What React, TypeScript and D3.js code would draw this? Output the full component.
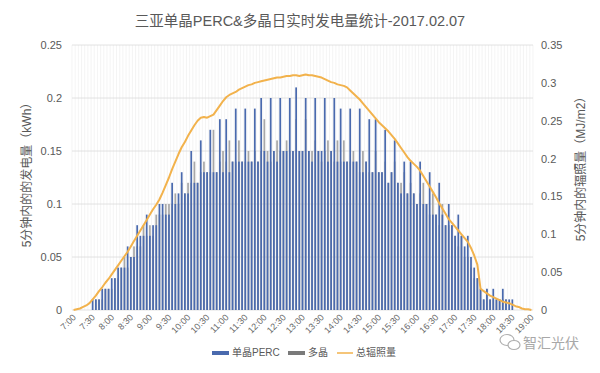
import React from "react";
import * as d3 from "d3";

// 5-minute slots from 7:00 to 19:00
const slotTimes = d3.range(0, 145).map((i) => {
  const m = 7 * 60 + i * 5;
  return `${Math.floor(m / 60)}:${String(m % 60).padStart(2, "0")}`;
});

const tickLabels = [
  "7:00", "7:30", "8:00", "8:30", "9:00", "9:30", "10:00", "10:30", "11:00",
  "11:30", "12:00", "12:30", "13:00", "13:30", "14:00", "14:30", "15:00",
  "15:30", "16:00", "16:30", "17:00", "17:30", "18:00", "18:30", "19:00",
];

// 单晶PERC (kWh per 5 min)
const perc = [
  0, 0, 0, 0, 0, 0,
  0.01, 0.01, 0.01, 0.02, 0.02, 0.02,
  0.03, 0.03, 0.04, 0.04, 0.04, 0.06,
  0.05, 0.05, 0.08, 0.07, 0.07, 0.09,
  0.07, 0.08, 0.08, 0.10, 0.10, 0.09,
  0.09, 0.12, 0.10, 0.11, 0.13, 0.11,
  0.11, 0.15, 0.12, 0.12, 0.16, 0.13,
  0.13, 0.17, 0.13, 0.13, 0.18, 0.13,
  0.18, 0.13, 0.14, 0.19, 0.14, 0.14,
  0.19, 0.14, 0.14, 0.19, 0.14, 0.20,
  0.15, 0.14, 0.20, 0.15, 0.14, 0.20,
  0.15, 0.15, 0.20, 0.15, 0.21, 0.15,
  0.15, 0.20, 0.15, 0.14, 0.20, 0.15,
  0.15, 0.20, 0.14, 0.15, 0.20, 0.14,
  0.19, 0.14, 0.14, 0.19, 0.14, 0.14,
  0.19, 0.13, 0.14, 0.18, 0.13, 0.18,
  0.13, 0.13, 0.17, 0.12, 0.13, 0.16,
  0.12, 0.11, 0.14, 0.11, 0.14, 0.11,
  0.10, 0.14, 0.10, 0.10, 0.13, 0.09,
  0.09, 0.12, 0.09, 0.08, 0.10, 0.08,
  0.07, 0.09, 0.07, 0.06, 0.07, 0.05,
  0.04, 0.03, 0.02, 0.01, 0.02, 0.01,
  0.02, 0.01, 0.01, 0.02, 0.01, 0.01,
  0.01, 0, 0, 0, 0, 0, 0,
];

// 多晶 (kWh per 5 min)
const duo = [
  0, 0, 0, 0, 0, 0,
  0, 0.01, 0.01, 0.01, 0.02, 0.02,
  0.02, 0.03, 0.03, 0.04, 0.05, 0.04,
  0.05, 0.06, 0.06, 0.06, 0.08, 0.07,
  0.08, 0.07, 0.09, 0.09, 0.09, 0.10,
  0.10, 0.10, 0.11, 0.10, 0.12, 0.11,
  0.12, 0.12, 0.14, 0.12, 0.13, 0.14,
  0.13, 0.13, 0.17, 0.13, 0.14, 0.15,
  0.14, 0.16, 0.14, 0.14, 0.16, 0.14,
  0.14, 0.15, 0.14, 0.15, 0.14, 0.15,
  0.18, 0.15, 0.14, 0.15, 0.16, 0.15,
  0.15, 0.16, 0.15, 0.15, 0.18, 0.15,
  0.15, 0.18, 0.15, 0.15, 0.16, 0.15,
  0.14, 0.15, 0.16, 0.15, 0.14, 0.16,
  0.14, 0.16, 0.14, 0.14, 0.15, 0.14,
  0.13, 0.15, 0.14, 0.13, 0.13, 0.15,
  0.13, 0.13, 0.14, 0.12, 0.13, 0.14,
  0.12, 0.12, 0.13, 0.11, 0.12, 0.11,
  0.10, 0.11, 0.12, 0.10, 0.09, 0.11,
  0.09, 0.08, 0.10, 0.08, 0.08, 0.08,
  0.07, 0.06, 0.07, 0.05, 0.05, 0.04,
  0.03, 0.03, 0.02, 0.01, 0.02, 0.01,
  0.01, 0.01, 0.01, 0.01, 0.01, 0,
  0, 0, 0, 0, 0, 0, 0,
];

// 总辐照量 (MJ/m2 per 5 min)
const irradiance = [
  0.000, 0.001, 0.002, 0.004, 0.006, 0.009,
  0.014, 0.019, 0.025, 0.030, 0.036, 0.041,
  0.047, 0.053, 0.059, 0.065, 0.071, 0.077,
  0.084, 0.091, 0.098, 0.105, 0.112, 0.119,
  0.126, 0.133, 0.139, 0.146, 0.155, 0.165,
  0.175, 0.186, 0.196, 0.206, 0.215, 0.222,
  0.230, 0.237, 0.244, 0.250, 0.254, 0.255,
  0.254, 0.256, 0.258, 0.264, 0.270, 0.276,
  0.281, 0.284, 0.286, 0.288, 0.291, 0.293,
  0.295, 0.297, 0.298, 0.300, 0.301, 0.302,
  0.303, 0.304, 0.305, 0.306, 0.307, 0.307,
  0.308, 0.309, 0.309, 0.310, 0.310, 0.309,
  0.310, 0.311, 0.310, 0.310, 0.309, 0.308,
  0.307, 0.305, 0.303, 0.301, 0.300, 0.298,
  0.297, 0.296, 0.294, 0.290, 0.286, 0.282,
  0.278, 0.273, 0.268, 0.263, 0.258, 0.253,
  0.248, 0.244, 0.240, 0.236, 0.231, 0.226,
  0.220, 0.214, 0.208, 0.202, 0.197, 0.193,
  0.189, 0.184, 0.177, 0.170, 0.163, 0.156,
  0.149, 0.141, 0.134, 0.127, 0.120, 0.115,
  0.110, 0.105, 0.100, 0.095, 0.090, 0.082,
  0.072, 0.060, 0.028, 0.025, 0.022, 0.019,
  0.017, 0.015, 0.013, 0.011, 0.010, 0.009,
  0.007, 0.005, 0.004, 0.002, 0.001, 0.001,
  0.000,
];

const leftTicks = [0, 0.05, 0.1, 0.15, 0.2, 0.25];
const rightTicks = [0, 0.05, 0.1, 0.15, 0.2, 0.25, 0.3, 0.35];

const W = 600;
const H = 373;
const left = 72;
const right = 533;
const top = 45;
const bottom = 310;

const font = "'Liberation Sans', Arial, 'Noto Sans CJK SC', sans-serif";
const textColor = "#595959";
const blue = "#4a6aae";
const grey = "#a8a8a8";
const orange = "#f2b24c";

export default function App() {
  const x = d3
    .scaleBand()
    .domain(slotTimes)
    .range([left, right])
    .paddingInner(0.46)
    .paddingOuter(0.23);
  const bw = x.bandwidth();
  const step = x.step();

  const yL = d3.scaleLinear().domain([0, 0.25]).range([bottom, top]);
  const yR = d3.scaleLinear().domain([0, 0.35]).range([bottom, top]);

  const line = d3
    .line<number>()
    .x((d, i) => (x(slotTimes[i]) as number) + bw / 2)
    .y((d) => yR(d));

  const fmt = (v: number) => (v === 0 ? "0" : String(+v.toFixed(2)));

  return (
    <svg
      width={W}
      height={H}
      style={{ position: "absolute", left: 0, top: 0, background: "#fff" }}
      fontFamily={font}
    >
      <text x={300} y={26} textAnchor="middle" fontSize={14.5} fill={textColor}>
        三亚单晶PERC&多晶日实时发电量统计-2017.02.07
      </text>

      {/* category gridlines */}
      {d3.range(0, slotTimes.length + 1).map((i) => (
        <line
          key={"v" + i}
          x1={left + i * step}
          x2={left + i * step}
          y1={top}
          y2={bottom}
          stroke="#ececec"
          strokeWidth={0.6}
        />
      ))}
      {/* value gridlines */}
      {leftTicks.map((t) => (
        <line
          key={"h" + t}
          x1={left}
          x2={right}
          y1={yL(t)}
          y2={yL(t)}
          stroke="#dadada"
          strokeWidth={0.8}
        />
      ))}

      {/* bars: 多晶 behind, 单晶PERC in front */}
      {duo.map((v, i) => (
        <rect
          key={"d" + i}
          x={x(slotTimes[i])}
          y={yL(v)}
          width={bw}
          height={bottom - yL(v)}
          fill={grey}
        />
      ))}
      {perc.map((v, i) => (
        <rect
          key={"p" + i}
          x={x(slotTimes[i])}
          y={yL(v)}
          width={bw}
          height={bottom - yL(v)}
          fill={blue}
        />
      ))}

      <path
        d={line(irradiance) as string}
        fill="none"
        stroke={orange}
        strokeWidth={2}
        strokeLinejoin="round"
      />

      {/* left axis */}
      {leftTicks.map((t) => (
        <text
          key={"l" + t}
          x={62}
          y={yL(t) + 4}
          textAnchor="end"
          fontSize={11}
          fill={textColor}
        >
          {fmt(t)}
        </text>
      ))}
      {/* right axis */}
      {rightTicks.map((t) => (
        <text
          key={"r" + t}
          x={541}
          y={yR(t) + 4}
          textAnchor="start"
          fontSize={11}
          fill={textColor}
        >
          {fmt(t)}
        </text>
      ))}

      {/* x labels */}
      {tickLabels.map((l) => {
        const cx = (x(l) as number) + bw / 2;
        return (
          <text
            key={"x" + l}
            transform={`translate(${cx + 3},${318}) rotate(-45)`}
            textAnchor="end"
            fontSize={9}
            fill="#6a6a6a"
          >
            {l}
          </text>
        );
      })}

      {/* axis titles */}
      <text
        transform={`translate(31,${172}) rotate(-90)`}
        textAnchor="middle"
        fontSize={12}
        fill={textColor}
      >
        5分钟内的的发电量（kWh）
      </text>
      <text
        transform={`translate(585,${166}) rotate(-90)`}
        textAnchor="middle"
        fontSize={12}
        fill={textColor}
      >
        5分钟内的辐照量（MJ/m2）
      </text>

      {/* legend */}
      <rect x={212} y={351} width={17} height={4} fill={blue} />
      <text x={232} y={356} fontSize={10} fill={textColor}>
        单晶PERC
      </text>
      <rect x={288} y={351} width={17} height={4} fill="#7a7a7a" />
      <text x={308} y={356} fontSize={10} fill={textColor}>
        多晶
      </text>
      <line x1={337} x2={353} y1={353} y2={353} stroke={orange} strokeWidth={1.5} />
      <text x={356} y={356} fontSize={10} fill={textColor}>
        总辐照量
      </text>

      {/* watermark */}
      <g fill="none" stroke="#b0b0b0" strokeWidth={1.2}>
        <ellipse cx={507} cy={340} rx={7} ry={5.5} />
        <ellipse cx={514} cy={345} rx={6} ry={4.5} fill="#fff" />
      </g>
      <text x={523} y={348} fontSize={14} fill="#a8a8a8">
        智汇光伏
      </text>
    </svg>
  );
}
